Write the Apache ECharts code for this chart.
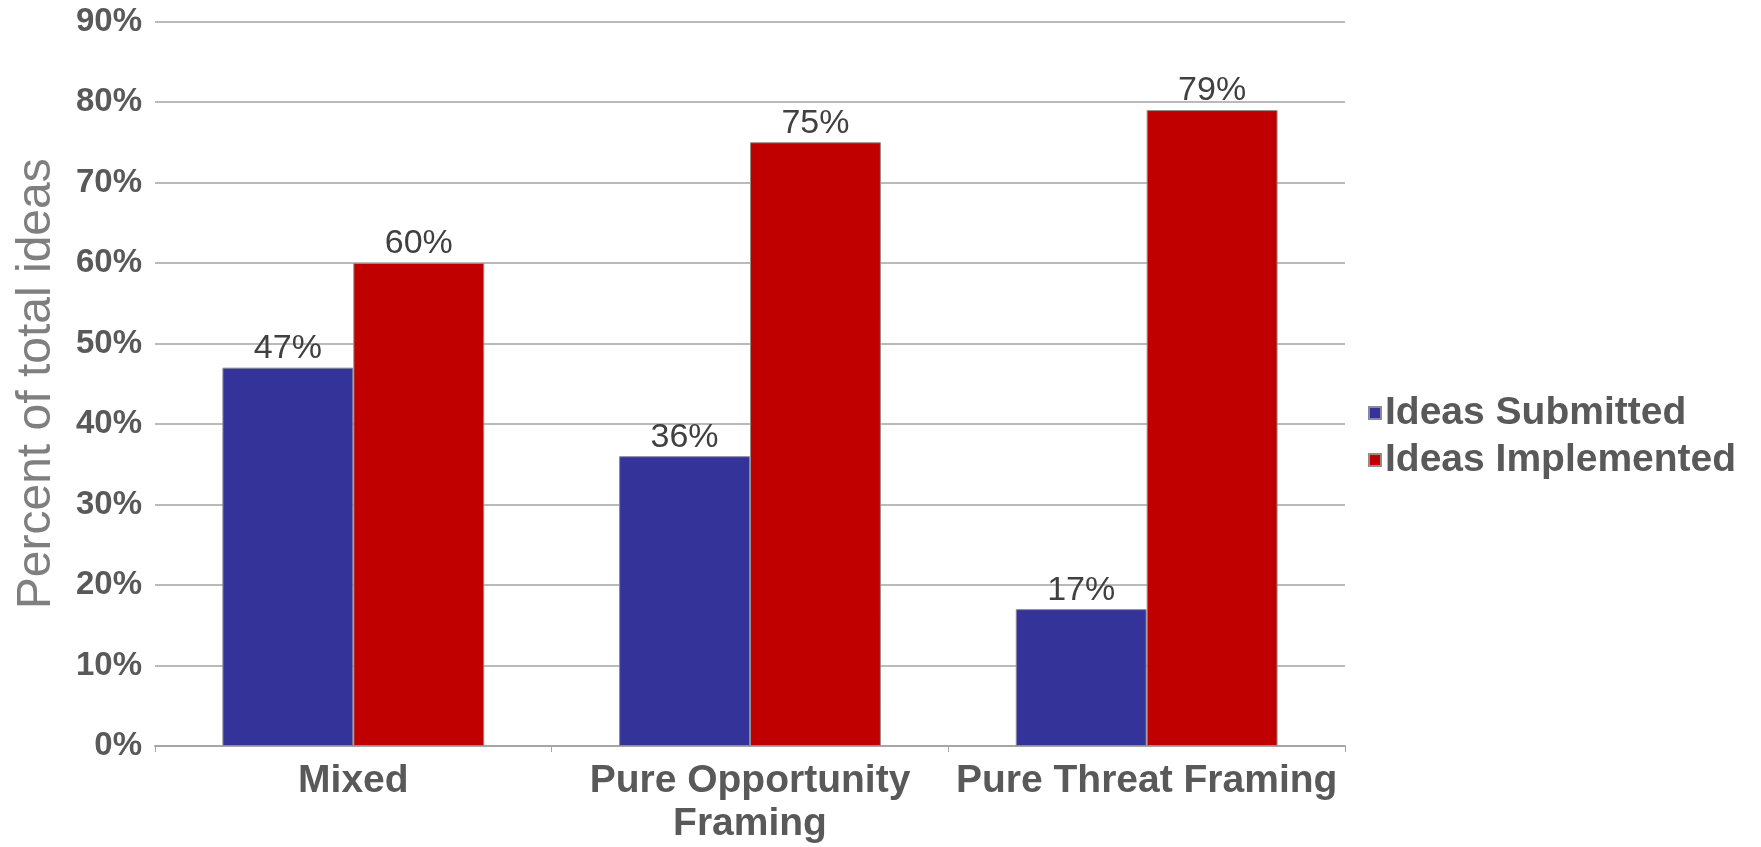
<!DOCTYPE html>
<html>
<head>
    <meta charset="UTF-8">
    <title>Ideas Submitted vs Implemented</title>
    <style>
        html, body { margin: 0; padding: 0; background: #fff; }
    </style>
</head>
<body>
    <div id="main" style="width: 1761px;height:847px;"></div>
    <script src="https://cdn.jsdelivr.net/npm/echarts@6.0.0/dist/echarts.min.js"></script>
    <script type="text/javascript">
        // data
        var categories = ['Mixed', 'Pure Opportunity\nFraming', 'Pure Threat Framing'];
        var submitted = [47, 36, 17];
        var implemented = [60, 75, 79];
        var seriesNames = ['Ideas Submitted', 'Ideas Implemented'];

        var myChart = echarts.init(document.getElementById('main'));
        var font = 'Liberation Sans, Arial, sans-serif';

        var labelStyle = {
            show: true,
            position: 'top',
            distance: 2,
            formatter: '{c}%',
            color: '#404040',
            fontFamily: font,
            fontSize: 34
        };

        let option = {
            animation: false,
            grid: {
                left: 155,
                right: 416,
                top: 21.5,
                bottom: 101,
                containLabel: false,
                outerBoundsMode: 'none'
            },
            legend: {
                orient: 'vertical',
                left: 1368,
                top: 393,
                padding: 0,
                itemWidth: 12,
                itemHeight: 12,
                itemGap: 7,
                icon: 'rect',
                textStyle: {
                    fontFamily: font,
                    fontSize: 39,
                    fontWeight: 'bold',
                    color: '#595959',
                    lineHeight: 40,
                    padding: [0, 0, 0, -1]
                },
                data: seriesNames
            },
            xAxis: {
                type: 'category',
                data: categories,
                axisLine: { lineStyle: { color: '#a6a6a6', width: 2 } },
                axisTick: { show: true, length: 6, lineStyle: { color: '#a6a6a6', width: 1 } },
                axisLabel: {
                    margin: 14,
                    fontFamily: font,
                    fontSize: 39,
                    fontWeight: 'bold',
                    color: '#595959',
                    lineHeight: 43,
                    interval: 0
                }
            },
            yAxis: {
                type: 'value',
                min: 0,
                max: 90,
                interval: 10,
                name: 'Percent of total ideas',
                nameLocation: 'middle',
                nameGap: 94,
                nameTextStyle: {
                    fontFamily: font,
                    fontSize: 48,
                    color: '#7f7f7f'
                },
                axisLine: { show: false },
                axisTick: { show: false },
                axisLabel: {
                    margin: 13,
                    formatter: '{value}%',
                    fontFamily: font,
                    fontSize: 33,
                    fontWeight: 'bold',
                    color: '#595959'
                },
                splitLine: { lineStyle: { color: '#bababa', width: 2 } }
            },
            series: [
                {
                    name: seriesNames[0],
                    type: 'bar',
                    data: submitted,
                    barGap: '0%',
                    barCategoryGap: '34%',
                    itemStyle: { color: '#333399', borderColor: '#8a8a9a', borderWidth: 1 },
                    label: labelStyle
                },
                {
                    name: seriesNames[1],
                    type: 'bar',
                    data: implemented,
                    itemStyle: { color: '#c00000', borderColor: '#9a8a8a', borderWidth: 1 },
                    label: labelStyle
                }
            ]
        };

        myChart.setOption(option);
    </script>
</body>
</html>
